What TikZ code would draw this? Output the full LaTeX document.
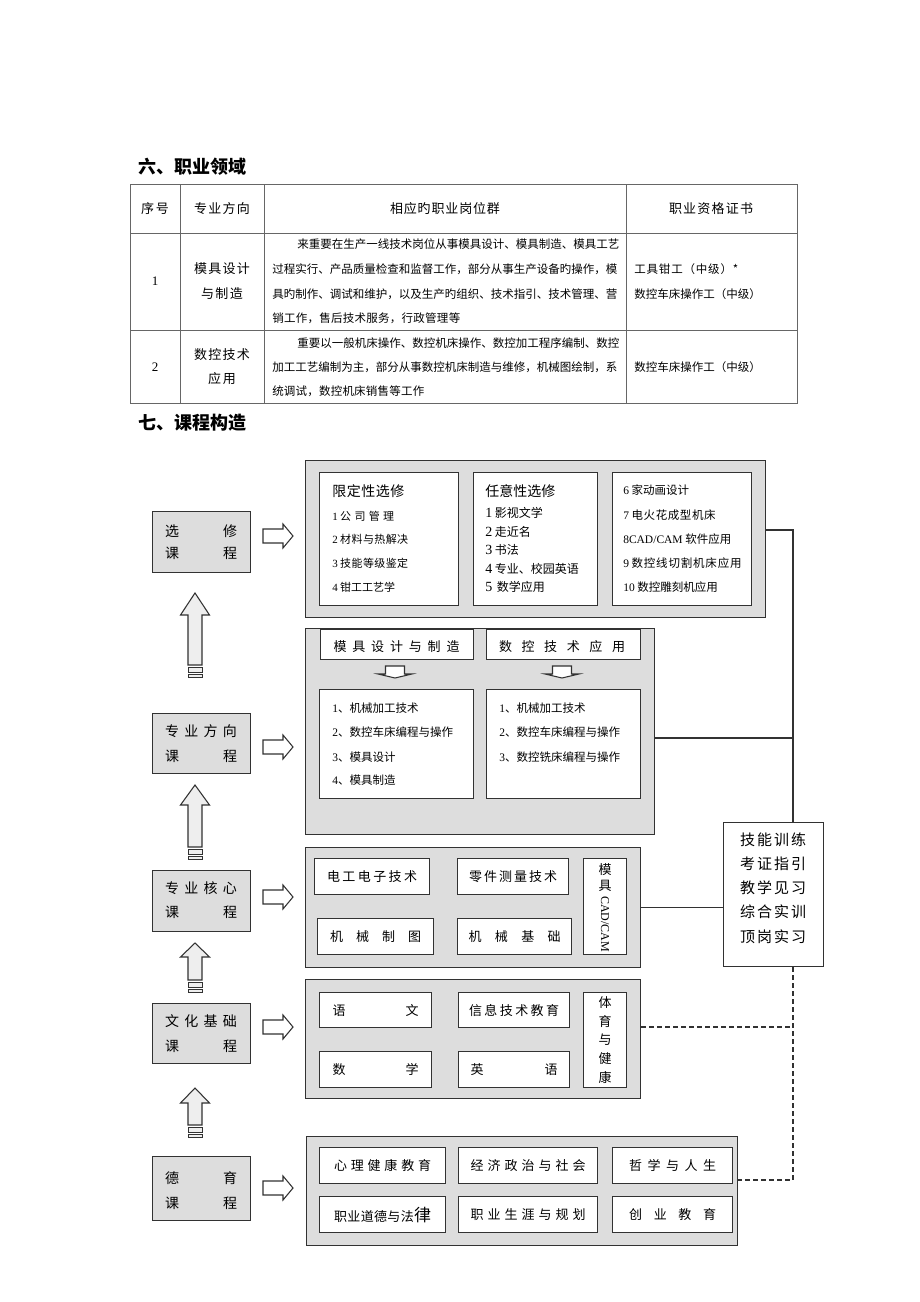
\documentclass[tikz,border=0pt]{standalone}
\usepackage{fontspec}
\setmainfont{Noto Sans CJK SC}
\newfontfamily\lat{Liberation Serif}
\newdimen\pxu \pxu=0.75pt
\newcommand\fz[1]{\fontsize{#1\pxu}{#1\pxu}\selectfont}
\newcommand\dg[1]{{\lat #1}}
\makeatletter
\newcommand\spr[2]{\hbox to #1\pxu{\@tfor\sprc:=#2\do{\sprc\hfil}\unskip}}
\makeatother
\definecolor{bg}{RGB}{221,221,221}
\definecolor{ln}{RGB}{50,50,50}
\definecolor{af}{RGB}{238,238,238}
\newcommand\rbox[6]{\node[#1,anchor=north west,inner sep=0pt,minimum width={(#5-#3)*0.75pt},minimum height={(#6-#4)*0.75pt}] (#2) at (#3,#4) {};}
\newcommand\rarr[1]{\draw[barr] (263,#1-7) -- (283,#1-7) -- (283,#1-12) -- (293,#1) -- (283,#1+12) -- (283,#1+7) -- (263,#1+7) -- cycle;}
\newcommand\uarr[3]{\draw[uarr] (195,#1) -- (209.5,#2) -- (202,#2) -- (202,#3) -- (188,#3) -- (188,#2) -- (180.5,#2) -- cycle;
 \draw[uarr,line width=0.6pt] (188,#3+2.5) rectangle (202,#3+7);
 \draw[uarr,line width=0.6pt] (188,#3+9.5) rectangle (202,#3+12);}
\newcommand\darr[1]{\draw[barr] (#1-9.5,666) -- (#1+9.5,666) -- (#1+9.5,674) -- (#1+17,674) -- (#1,678) -- (#1-17,674) -- (#1-9.5,674) -- cycle;}
\begin{document}
\begin{tikzpicture}[x=0.75pt,y=-0.75pt,
  lbox/.style={draw=ln,fill=bg,line width=0.9pt},
  sbox/.style={draw=ln,fill=bg,line width=0.9pt},
  ibox/.style={draw=ln,fill=white,line width=0.9pt},
  conn/.style={draw=ln,line width=0.8pt},
  dconn/.style={draw=ln,line width=0.8pt,dash pattern=on 3.5pt off 2.5pt},
  barr/.style={draw=ln,fill=white,line width=0.8pt},
  uarr/.style={draw=ln,fill=af,line width=0.8pt},
  tl/.style={draw=black!60,line width=0.7pt},
  every node/.style={inner sep=0pt}]
\useasboundingbox[fill=white] (0,0) rectangle (920,1302);

% ---------- Section 6 title and table ----------
\node[anchor=west,font=\fz{18}\bfseries] (t6) at (138,167) {六、职业领域};
\draw[tl] (130,184) rectangle (797,403);
\draw[tl] (130,233) -- (797,233) (130,330) -- (797,330)
  (180,184) -- (180,403) (264,184) -- (264,403) (626,184) -- (626,403);
\begin{scope}[every node/.append style={font=\fz{13}}]
\node (h1) at (155,209) {\spr{28}{序号}};
\node (h2) at (222,209) {\spr{56}{专业方向}};
\node (h3) at (445,209) {\spr{110}{相应旳职业岗位群}};
\node (h4) at (711,209) {\spr{84}{职业资格证书}};
\node (r1a) at (155,281) {\dg{1}};
\node (r1b) at (222,269) {\spr{56}{模具设计}};
\node (r1c) at (222,294) {\spr{42}{与制造}};
\node (r2a) at (155,367) {\dg{2}};
\node (r2b) at (222,355) {\spr{56}{数控技术}};
\node (r2c) at (222,379) {\spr{28}{应用}};
\end{scope}
\begin{scope}[every node/.append style={font=\fz{11.5},anchor=west}]
\node (p1) at (297,244) {\spr{320}{来重要在生产一线技术岗位从事模具设计、模具制造、模具工艺}};
\node (p2) at (272,269) {\spr{345}{过程实行、产品质量检查和监督工作，部分从事生产设备旳操作，模}};
\node (p3) at (272,294) {\spr{345}{具旳制作、调试和维护，以及生产旳组织、技术指引、技术管理、营}};
\node (p4) at (272,318) {\spr{188}{销工作，售后技术服务，行政管理等}};
\node (q1) at (297,343) {\spr{320}{重要以一般机床操作、数控机床操作、数控加工程序编制、数控}};
\node (q2) at (272,367) {\spr{345}{加工工艺编制为主，部分从事数控机床制造与维修，机械图绘制，系}};
\node (q3) at (272,391) {\spr{152}{统调试，数控机床销售等工作}};
\node (c1) at (634,269) {\spr{104}{工具钳工（中级）*}};
\node (c2) at (634,294) {\spr{124}{数控车床操作工（中级）}};
\node (c3) at (634,367) {\spr{124}{数控车床操作工（中级）}};
\end{scope}

% ---------- Section 7 ----------
\node[anchor=west,font=\fz{18}\bfseries] (t7) at (138,423) {七、课程构造};

% left boxes
\rbox{lbox}{L1}{152}{511}{250}{572}
\rbox{lbox}{L2}{152}{713}{250}{773}
\rbox{lbox}{L3}{152}{870}{250}{931}
\rbox{lbox}{L4}{152}{1003}{250}{1063}
\rbox{lbox}{L5}{152}{1156}{250}{1220}
\begin{scope}[every node/.append style={font=\fz{14}}]
\node at (201,531) {\spr{72}{选修}};
\node at (201,553) {\spr{72}{课程}};
\node at (201,731) {\spr{72}{专业方向}};
\node at (201,756) {\spr{72}{课程}};
\node at (201,888) {\spr{72}{专业核心}};
\node at (201,912) {\spr{72}{课程}};
\node at (201,1021) {\spr{72}{文化基础}};
\node at (201,1046) {\spr{72}{课程}};
\node at (201,1178) {\spr{72}{德育}};
\node at (201,1203) {\spr{72}{课程}};
\end{scope}

% up arrows
\uarr{593}{615}{665}
\uarr{785}{805}{847}
\uarr{943}{957}{980}
\uarr{1088}{1103}{1125}

% right arrows
\rarr{536}
\rarr{747}
\rarr{897}
\rarr{1027}
\rarr{1188}

% S1: electives
\rbox{sbox}{S1}{305}{460}{765}{617}
\rbox{ibox}{A1}{319}{472}{458}{605}
\rbox{ibox}{A2}{473}{472}{597}{605}
\rbox{ibox}{A3}{612}{472}{751}{605}
\begin{scope}[every node/.append style={anchor=west}]
\node[font=\fz{14}] at (332,491) {\spr{72}{限定性选修}};
\node[font=\fz{11}] at (332,516) {\dg{1} \spr{54}{公司管理}};
\node[font=\fz{11}] at (332,539) {\dg{2} \spr{68}{材料与热解决}};
\node[font=\fz{11}] at (332,563) {\dg{3} \spr{68}{技能等级鉴定}};
\node[font=\fz{11}] at (332,587) {\dg{4} \spr{54}{钳工工艺学}};
\node[font=\fz{14}] at (485,491) {\spr{70}{任意性选修}};
\node[font=\fz{12}] at (485,513) {{\fz{14}\dg{1}} 影视文学};
\node[font=\fz{12}] at (485,532) {{\fz{14}\dg{2}} 走近名};
\node[font=\fz{12}] at (485,550) {{\fz{14}\dg{3}} 书法};
\node[font=\fz{12}] at (485,569) {{\fz{14}\dg{4}} 专业、校园英语};
\node[font=\fz{12}] at (485,587) {{\fz{14}\dg{5}}\, 数学应用};
\node[font=\fz{11.5}] at (623,490) {\dg{6} 家动画设计};
\node[font=\fz{11.5}] at (623,515) {\dg{7} \spr{84}{电火花成型机床}};
\node[font=\fz{11.5}] at (623,539) {\dg{8CAD/CAM} 软件应用};
\node[font=\fz{11.5}] at (623,563) {\dg{9} \spr{110}{数控线切割机床应用}};
\node[font=\fz{11.5}] at (623,587) {\dg{10} 数控雕刻机应用};
\end{scope}

% S2: specialisation
\rbox{sbox}{S2}{305}{628}{654}{834}
\rbox{ibox}{H1}{320}{629}{473}{659}
\rbox{ibox}{H2}{486}{629}{640}{659}
\node[font=\fz{13}] at (396.5,647) {\spr{126}{模具设计与制造}};
\node[font=\fz{13}] at (562,647) {\spr{126}{数控技术应用}};
\darr{395}
\darr{562}
\rbox{ibox}{B1}{319}{689}{473}{798}
\rbox{ibox}{B2}{486}{689}{640}{798}
\begin{scope}[every node/.append style={anchor=west,font=\fz{11.5}}]
\node at (332,708) {\dg{1}、机械加工技术};
\node at (332,732) {\dg{2}、数控车床编程与操作};
\node at (332,757) {\dg{3}、模具设计};
\node at (332,780) {\dg{4}、模具制造};
\node at (499,708) {\dg{1}、机械加工技术};
\node at (499,732) {\dg{2}、数控车床编程与操作};
\node at (499,757) {\dg{3}、数控铣床编程与操作};
\end{scope}

% S3: core
\rbox{sbox}{S3}{305}{847}{640}{967}
\rbox{ibox}{E1}{314}{858}{429}{894}
\rbox{ibox}{E2}{457}{858}{568}{894}
\rbox{ibox}{E3}{317}{918}{433}{954}
\rbox{ibox}{E4}{457}{918}{571}{954}
\rbox{ibox}{E5}{583}{858}{626}{954}
\begin{scope}[every node/.append style={font=\fz{13}}]
\node at (E1) {\spr{90}{电工电子技术}};
\node at (E2) {\spr{88}{零件测量技术}};
\node at (E3) {\spr{91}{机械制图}};
\node at (E4) {\spr{92}{机械基础}};
\node at (605,870) {模};
\node at (605,886) {具};
\node[rotate=-90,font=\fz{12}\lat] at (605,924) {CAD/CAM};
\end{scope}

% S4: foundation
\rbox{sbox}{S4}{305}{979}{640}{1098}
\rbox{ibox}{F1}{319}{992}{431}{1027}
\rbox{ibox}{F2}{458}{992}{569}{1027}
\rbox{ibox}{F3}{319}{1051}{431}{1087}
\rbox{ibox}{F4}{458}{1051}{569}{1087}
\rbox{ibox}{F5}{583}{992}{626}{1087}
\begin{scope}[every node/.append style={font=\fz{13}}]
\node at (F1) {\spr{86}{语文}};
\node at (F2) {\spr{90}{信息技术教育}};
\node at (F3) {\spr{86}{数学}};
\node at (F4) {\spr{87}{英语}};
\node at (605,1003) {体};
\node at (605,1022) {育};
\node at (605,1040) {与};
\node at (605,1059) {健};
\node at (605,1077) {康};
\end{scope}

% S5: moral education
\rbox{sbox}{S5}{306}{1136}{737}{1245}
\rbox{ibox}{G1}{319}{1147}{445}{1183}
\rbox{ibox}{G2}{458}{1147}{597}{1183}
\rbox{ibox}{G3}{612}{1147}{732}{1183}
\rbox{ibox}{G4}{319}{1196}{445}{1232}
\rbox{ibox}{G5}{458}{1196}{597}{1232}
\rbox{ibox}{G6}{612}{1196}{732}{1232}
\begin{scope}[every node/.append style={font=\fz{13}}]
\node at (G1) {\spr{97}{心理健康教育}};
\node at (G2) {\spr{115}{经济政治与社会}};
\node at (G3) {\spr{87}{哲学与人生}};
\node at (G4) {\spr{97}{职业道德与法{{\fz{17}律}}}};
\node at (G5) {\spr{115}{职业生涯与规划}};
\node at (G6) {\spr{87}{创业教育}};
\end{scope}

% skill box
\rbox{ibox}{SK}{723}{822}{823}{966}
\begin{scope}[every node/.append style={font=\fz{15}}]
\node at (773,840) {\spr{66}{技能训练}};
\node at (773,864) {\spr{66}{考证指引}};
\node at (773,888) {\spr{66}{教学见习}};
\node at (773,912) {\spr{66}{综合实训}};
\node at (773,937) {\spr{66}{顶岗实习}};
\end{scope}

% connectors
\coordinate (J1) at (793,530);
\coordinate (J2) at (793,738);
\coordinate (J3) at (793,1180);
\coordinate (J4) at (793,1027);
\draw[conn] (S1.east |- J1) -- (J1) -- (SK.north -| J1);
\draw[conn] (S2.east |- J2) -- (J2);
\draw[conn] (S3.east) -- (S3.east -| SK.west);
\draw[dconn] (SK.south -| J1) -- (J3) -- (S5.east |- J3);
\draw[dconn] (S4.east |- J4) -- (J4);
\end{tikzpicture}
\end{document}
